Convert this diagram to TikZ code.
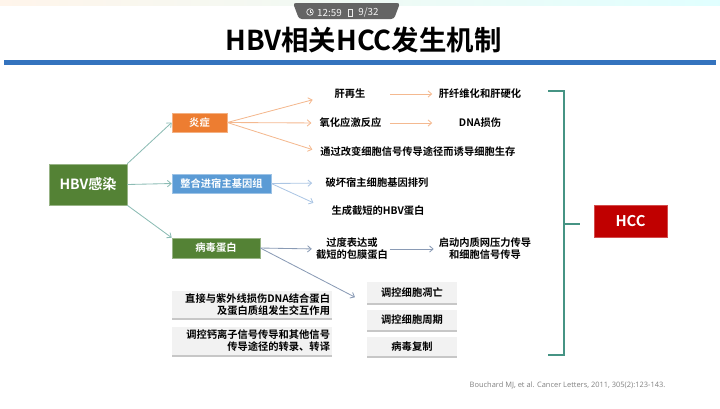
\documentclass[tikz,border=0pt]{standalone}
\usepackage{fontspec}
\setmainfont{Noto Sans CJK SC}[BoldFont={Noto Sans CJK SC Bold}]
\newfontfamily\citefont{Open Sans}
\usetikzlibrary{arrows.meta, positioning, calc, shadows}

\definecolor{hbvgreen}{RGB}{84, 130, 53}
\definecolor{inforange}{RGB}{237, 125, 49}
\definecolor{intblue}{RGB}{91, 155, 213}
\definecolor{hccred}{RGB}{192, 0, 0}
\definecolor{bracketteal}{RGB}{70, 148, 132}
\definecolor{titleblue}{RGB}{52, 115, 190}
\definecolor{badgegray}{RGB}{100, 100, 100}
\definecolor{boxgray}{RGB}{242, 242, 242}
\definecolor{arrteal}{RGB}{140, 188, 180}
\definecolor{arrorange}{RGB}{244, 185, 144}
\definecolor{arrblue}{RGB}{172, 198, 228}
\definecolor{arrslate}{RGB}{138, 155, 181}

\tikzset{
  box/.style={text=white, font=\bfseries\fontsize{7.3}{8.6}\selectfont, inner sep=0pt, align=center},
  graybox/.style={fill=boxgray, font=\bfseries\fontsize{7.3}{8.6}\selectfont, inner sep=0pt, align=center,
    drop shadow={shadow xshift=0.3pt, shadow yshift=-1.2pt, fill=black, opacity=0.22}},
  txt/.style={font=\bfseries\fontsize{7.3}{8.6}\selectfont, inner sep=0pt, align=center},
  link/.style={line width=0.6pt, -{Straight Barb[length=2.6pt, width=4.5pt]}},
}

\begin{document}
\begin{tikzpicture}[x=0.025cm, y=-0.025cm]
  \useasboundingbox (0,0) rectangle (720,408);

  % Header
  \shade[left color=orange!8, right color=cyan!12] (0,0) rectangle (720,5);
  \fill[badgegray, rounded corners=2pt] (293,3) -- (400,3) -- (394,19) -- (299,19) -- cycle;
  \draw[white!85!gray, line width=0.5pt] (310,12) circle (3.3);
  \draw[white!85!gray, line width=0.4pt] (310,12) -- (310,9.6) (310,12) -- (311.9,12);
  \node[font=\fontsize{7}{8}\selectfont, text=white!90!gray, inner sep=0pt] (clock) at (329.5,12.5) {12:59};
  \draw[white!85!gray, line width=0.4pt] (348,9.5) rectangle (352.5,16);
  \node[font=\fontsize{7}{8}\selectfont, text=white!90!gray, inner sep=0pt] (page) at (368.5,12.5) {9/32};
  \node[font=\bfseries\fontsize{19.5}{22}\selectfont, inner sep=0pt] (title) at (363.5,40) {HBV相关HCC发生机制};
  \fill[titleblue] (4,60) rectangle (716,65);

  % Main boxes
  \node[box, fill=hbvgreen, draw=hbvgreen!60!white, minimum width=1.95cm, minimum height=1.025cm,
    font=\bfseries\fontsize{10}{12}\selectfont] (hbv) at (88,184.5) {HBV感染};
  \node[box, fill=inforange, draw=inforange!60!white, minimum width=1.375cm, minimum height=0.475cm] (yz) at (199.5,122.5) {炎症};
  \node[box, fill=intblue, draw=intblue!60!white, minimum width=2.475cm, minimum height=0.475cm] (zh) at (221.5,183.5) {整合进宿主基因组};
  \node[box, fill=hbvgreen, draw=hbvgreen!60!white, minimum width=2.2cm, minimum height=0.5cm] (bdb) at (216,248) {病毒蛋白};

  % Inflammation branch
  \node[txt] (gzs) at (350,94) {肝再生};
  \node[txt] (gxw) at (480,94) {肝纤维化和肝硬化};
  \node[txt] (yhyj) at (350.5,123) {氧化应激反应};
  \node[txt] (dna) at (480,123) {DNA损伤};
  \node[txt, anchor=west] (tgga) at (320,152) {通过改变细胞信号传导途径而诱导细胞生存};

  % Integration branch
  \node[txt] (phsz) at (377,183) {破坏宿主细胞基因排列};
  \node[txt] (scjd) at (378,211) {生成截短的HBV蛋白};

  % Viral protein branch
  \node[txt] (gdbd) at (352,249) {过度表达或\\截短的包膜蛋白};
  \node[txt] (qdnz) at (485,249) {启动内质网压力传导\\和细胞信号传导};
  \node[graybox, minimum width=4cm, minimum height=0.675cm, text width=3.9cm, align=right] (zjyz) at (252,304.5)
    {直接与紫外线损伤DNA结合蛋白\\及蛋白质组发生交互作用};
  \node[graybox, minimum width=4cm, minimum height=0.7cm, text width=3.9cm, align=right] (tkgl) at (252,341)
    {调控钙离子信号传导和其他信号\\传导途径的转录、转译};
  \node[graybox, minimum width=2.25cm, minimum height=0.525cm] (tkdw) at (412,292.5) {调控细胞凋亡};
  \node[graybox, minimum width=2.25cm, minimum height=0.5cm] (tkzq) at (412,320) {调控细胞周期};
  \node[graybox, minimum width=2.25cm, minimum height=0.475cm] (bdfz) at (412,346.5) {病毒复制};

  % HCC
  \draw[bracketteal, line width=1.3pt] (548,91) -- (564,91) -- (564,355) -- (548,355);
  \draw[bracketteal, line width=1.3pt] (564,224) -- (580,224);
  \node[box, fill=hccred, draw=hccred!70!white, minimum width=1.825cm, minimum height=0.8cm,
    font=\bfseries\fontsize{10.5}{12}\selectfont] (hcc) at (630.5,221) {HCC};

  % Connectors
  \draw[link, arrteal] (hbv.north east) -- (yz.west);
  \draw[link, arrteal] (hbv.east) -- (zh.west);
  \draw[link, arrteal] (hbv.south east) -- (bdb.north west);
  \draw[link, arrorange, shorten >=0.56cm] (yz.east) -- (gzs.west);
  \draw[link, arrorange, shorten >=0.2cm] (yz.east) -- (yhyj.west);
  \draw[link, arrorange, shorten >=0.2cm] (yz.east) -- (tgga.west);
  \draw[link, arrorange, shorten <=0.61cm, shorten >=0.16cm] (gzs.east) -- (gxw.west);
  \draw[link, arrorange, shorten <=0.21cm, shorten >=0.66cm] (yhyj.east) -- (dna.west);
  \draw[link, arrblue, shorten >=0.33cm] (zh.east) -- (phsz.west);
  \draw[link, arrblue, shorten >=0.49cm] (zh.east) -- (scjd.west);
  \draw[link, arrslate, shorten >=0.1cm] (bdb.east) -- (gdbd.west);
  \draw[link, arrslate, shorten <=0.04cm, shorten >=0.12cm] (gdbd.east) -- (qdnz.west);
  \draw[link, arrslate, shorten >=0.33cm] (bdb.east) -- (tkdw.south west);

  % Reference
  \node[font=\citefont\fontsize{5.3}{6}\selectfont, text=gray, inner sep=0pt] (ref) at (567.5,385)
    {Bouchard MJ, et al. Cancer Letters, 2011, 305(2):123-143.};
\end{tikzpicture}
\end{document}
